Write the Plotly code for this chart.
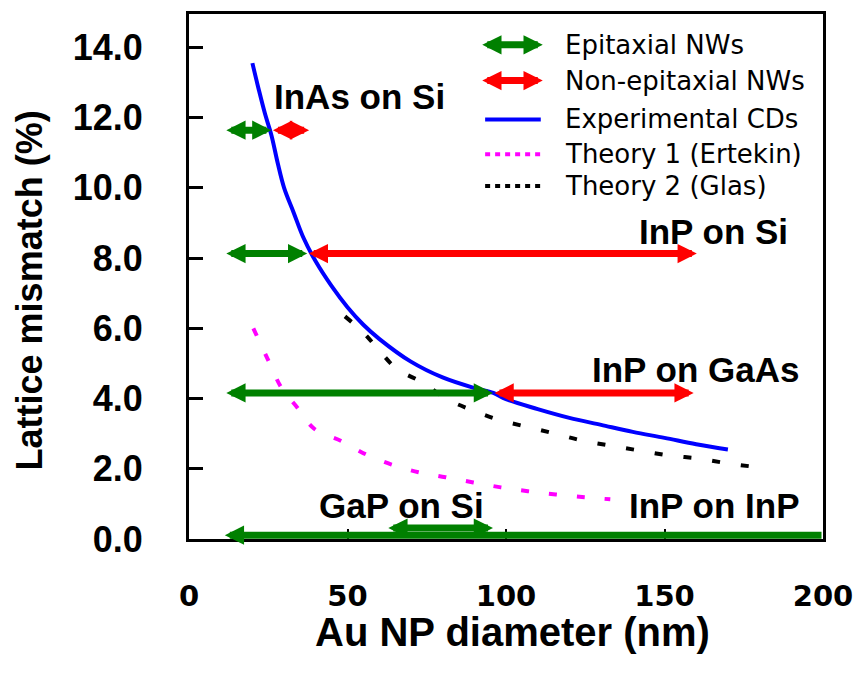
import plotly.graph_objects as go

# ---------------- data ----------------
# Experimental critical diameters (blue solid)
exp_x = [20, 22, 24, 26, 28, 30, 33, 36, 40, 45, 50, 55, 60, 70, 80, 90, 96, 100, 110, 120, 130, 140, 150, 160, 170]
exp_y = [13.55, 12.8, 12.1, 11.5, 10.7, 10.0, 9.3, 8.6, 7.9, 7.2, 6.6, 6.1, 5.7, 5.05, 4.6, 4.3, 4.16, 3.98, 3.7, 3.45, 3.25, 3.05, 2.88, 2.7, 2.55]

# Theory 1 (Ertekin) - magenta dotted
ert_x = [20.3, 25.1, 29.2, 34.2, 39.5, 48.3, 55.8, 63.9, 72.4, 80.9, 89.7, 98.4, 106.9, 115.7, 124.8, 132.9]
ert_y = [6.0, 5.07, 4.3, 3.74, 3.14, 2.78, 2.41, 2.12, 1.9, 1.76, 1.61, 1.47, 1.36, 1.27, 1.19, 1.13]

# Theory 2 (Glas) - black dotted
glas_x = [49.2, 55.2, 59.9, 65.5, 74.0, 81.2, 89.0, 97.5, 106.3, 115.4, 124.1, 132.9, 142.0, 151.4, 160.8, 170.2, 179.9]
glas_y = [6.34, 5.86, 5.38, 4.85, 4.44, 3.99, 3.68, 3.4, 3.2, 3.0, 2.8, 2.66, 2.52, 2.38, 2.29, 2.15, 2.04]

# Double arrows: material systems
sys_names = ["InAs on Si", "InP on Si", "InP on GaAs", "GaP on Si", "InP on InP"]
sys_y = [11.64, 8.13, 4.16, 0.31, 0.11]
epi_from = [11.3, 11.3, 11.3, 62.4, 200.0]
epi_to = [26.0, 37.3, 95.9, 95.9, 11.3]
nonepi_from = [26.0, 37.3, 95.9, None, None]
nonepi_to = [37.9, 160.2, 159.2, None, None]

# label anchor positions (data units, left-aligned)
lab_x = [26.3, 141.4, 126.6, 40.4, 138.2]
lab_y = [12.6, 8.77, 4.82, 0.95, 0.95]

x_ticks = [0, 50, 100, 150, 200]
y_ticks = [0, 2, 4, 6, 8, 10, 12, 14]

legend_names = ["Epitaxial NWs", "Non-epitaxial NWs", "Experimental CDs", "Theory 1 (Ertekin)", "Theory 2 (Glas)"]

GREEN = "#008000"
RED = "#ff0000"
BLUE = "#0000ff"
MAGENTA = "#ff00ff"
BLACK = "#000000"

fig = go.Figure()

fig.add_trace(go.Scatter(x=ert_x, y=ert_y, mode="lines", line=dict(color=MAGENTA, width=4, dash="8px,20px", shape="spline"),
                         showlegend=False, name=legend_names[3]))
fig.add_trace(go.Scatter(x=glas_x, y=glas_y, mode="lines", line=dict(color=BLACK, width=4, dash="8px,21px", shape="spline"),
                         showlegend=False, name=legend_names[4]))
fig.add_trace(go.Scatter(x=exp_x, y=exp_y, mode="lines", line=dict(color=BLUE, width=4, shape="spline"),
                         showlegend=False, name=legend_names[2]))

annotations = []


def arrow(x0, x1, y, color, both=True):
    return dict(x=x1, y=y, ax=x0, ay=y, xref="x", yref="y", axref="x", ayref="y",
                text="", showarrow=True, arrowhead=2, startarrowhead=2,
                arrowside="end+start" if both else "end",
                arrowsize=0.55, startarrowsize=0.55, arrowwidth=7, arrowcolor=color,
                standoff=0, startstandoff=0)


for i in range(len(sys_names)):
    annotations.append(arrow(epi_from[i], epi_to[i], sys_y[i], GREEN, both=(i != 4)))
    if nonepi_from[i] is not None:
        annotations.append(arrow(nonepi_from[i], nonepi_to[i], sys_y[i], RED))
    annotations.append(dict(x=lab_x[i], y=lab_y[i], xref="x", yref="y", text=sys_names[i], showarrow=False,
                            xanchor="left", yanchor="middle",
                            font=dict(family="Liberation Sans", size=35, color=BLACK, weight="bold")))

# ---------------- manual legend ----------------
L = 189.0
R = 827.0
T = 11.0
B = 539.0


def px(xp):
    return (xp - L) / (R - L)


def py(yp):
    return (B - yp) / (B - T)


row_y = [42, 78, 117, 152, 184]
for k, name in enumerate(legend_names):
    annotations.append(dict(x=px(565), y=py(row_y[k]), xref="paper", yref="paper", text=name, showarrow=False,
                            xanchor="left", yanchor="middle",
                            font=dict(family="DejaVu Sans", size=26, color=BLACK)))

for k, col in enumerate([GREEN, RED]):
    annotations.append(dict(x=px(545), y=py(row_y[k]), xref="paper", yref="paper", ax=-62, ay=0,
                            axref="pixel", ayref="pixel", text="", showarrow=True,
                            arrowhead=2, startarrowhead=2, arrowside="end+start",
                            arrowsize=0.55, startarrowsize=0.55, arrowwidth=7, arrowcolor=col,
                            standoff=0, startstandoff=0))

shapes = []
for k, (col, dash) in enumerate([(BLUE, "solid"), (MAGENTA, "5px,5px"), (BLACK, "5px,5px")]):
    yy = py(row_y[k + 2])
    shapes.append(dict(type="line", xref="paper", yref="paper", x0=px(487), x1=px(543), y0=yy, y1=yy,
                       line=dict(color=col, width=4, dash=dash)))

# axis titles
annotations.append(dict(x=px(515), y=py(633), xref="paper", yref="paper", text="Au NP diameter (nm)",
                        showarrow=False, xanchor="center", yanchor="middle",
                        font=dict(family="Liberation Sans", size=40, color=BLACK, weight="bold")))
annotations.append(dict(x=px(28), y=py(289), xref="paper", yref="paper", text="Lattice mismatch (%)",
                        showarrow=False, xanchor="center", yanchor="middle", textangle=-90,
                        font=dict(family="Liberation Sans", size=36, color=BLACK, weight="bold")))

fig.update_layout(
    width=864, height=673,
    margin=dict(l=189, r=37, t=11, b=134),
    plot_bgcolor="white", paper_bgcolor="white",
    showlegend=False,
    annotations=annotations,
    shapes=shapes,
)

fig.update_xaxes(range=[0, 200], tickvals=x_ticks, ticks="inside", ticklen=10, tickwidth=2, tickcolor=BLACK,
                 showline=True, linewidth=3, linecolor=BLACK, mirror=True, showgrid=False, zeroline=False,
                 ticklabelstandoff=29,
                 tickfont=dict(family="DejaVu Sans", size=29, color=BLACK, weight="bold"))
fig.update_yaxes(range=[0, 14.95], tickvals=y_ticks, tickformat=".1f", ticks="inside", ticklen=14, tickwidth=3,
                 tickcolor=BLACK, showline=True, linewidth=3, linecolor=BLACK, mirror=True, showgrid=False,
                 zeroline=False, ticklabelstandoff=36,
                 tickfont=dict(family="Liberation Sans", size=36, color=BLACK, weight="bold"))

fig.write_html("out.html")
